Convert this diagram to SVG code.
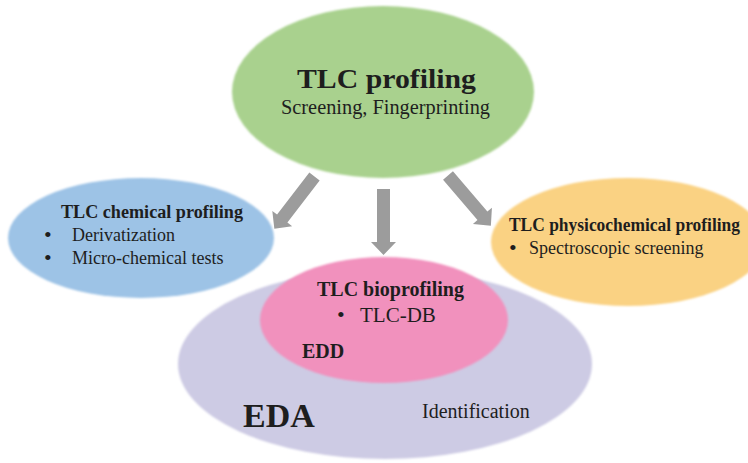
<svg xmlns="http://www.w3.org/2000/svg" width="748" height="463" viewBox="0 0 748 463">
  <defs>
    <style>
      text { font-family: "Liberation Serif", "Times New Roman", serif; fill: #1e1e1e; }
      .b { font-weight: bold; }
      .bul { font-size: 22px; }
      .sh { filter: url(#soft); }
      .arrow { fill: #9c9c9c; }
    </style>
    <filter id="soft" x="-5%" y="-5%" width="110%" height="110%">
      <feGaussianBlur stdDeviation="0.8"/>
    </filter>
    <path id="arr" d="M -6.5 0 L 6.5 0 L 6.5 53 L 12.5 53 L 0 66 L -12.5 53 L -6.5 53 Z"/>
  </defs>
  <rect width="748" height="463" fill="#ffffff"/>

  <g id="node-eda">
    <ellipse class="sh" cx="385" cy="364" rx="207" ry="95" fill="#cdcbe4"/>
    <text class="b" x="243" y="427" font-size="34">EDA</text>
    <text x="422" y="418" font-size="20" fill="#2a2a2a">Identification</text>
  </g>

  <g id="node-bioprofiling">
    <ellipse class="sh" cx="384" cy="320" rx="124" ry="63" fill="#f191bd"/>
    <text class="b" x="317" y="296" font-size="20">TLC bioprofiling</text>
    <text class="bul" x="337" y="322">•</text>
    <text x="360" y="322" font-size="21">TLC-DB</text>
    <text class="b" x="302" y="358" font-size="20">EDD</text>
  </g>

  <g id="node-chemical">
    <ellipse class="sh" cx="141" cy="238" rx="133" ry="60" fill="#9dc3e6"/>
    <text class="b" x="61" y="218" font-size="18" textLength="182" lengthAdjust="spacingAndGlyphs">TLC chemical profiling</text>
    <text class="bul" x="44" y="242">•</text>
    <text x="72" y="241" font-size="18">Derivatization</text>
    <text class="bul" x="44" y="265">•</text>
    <text x="72" y="264" font-size="18">Micro-chemical tests</text>
  </g>

  <g id="node-physicochemical">
    <ellipse class="sh" cx="628" cy="242" rx="137" ry="64" fill="#fad283"/>
    <text class="b" x="509" y="231" font-size="18" textLength="231" lengthAdjust="spacingAndGlyphs">TLC physicochemical profiling</text>
    <text class="bul" x="509" y="255">•</text>
    <text x="529" y="254" font-size="18">Spectroscopic screening</text>
  </g>

  <g id="node-profiling">
    <ellipse class="sh" cx="383" cy="92" rx="151" ry="86" fill="#a9d18e"/>
    <text class="b" x="297" y="88" font-size="27" textLength="179" lengthAdjust="spacingAndGlyphs">TLC profiling</text>
    <text x="281" y="114" font-size="20" textLength="209" lengthAdjust="spacingAndGlyphs">Screening, Fingerprinting</text>
  </g>

  <g id="connectors">
    <use href="#arr" class="arrow" transform="translate(314.5,176.5) rotate(37.5)"/>
    <use href="#arr" class="arrow" transform="translate(383.5,189)"/>
    <use href="#arr" class="arrow" transform="translate(448,175.5) rotate(-40.5)"/>
  </g>
</svg>
